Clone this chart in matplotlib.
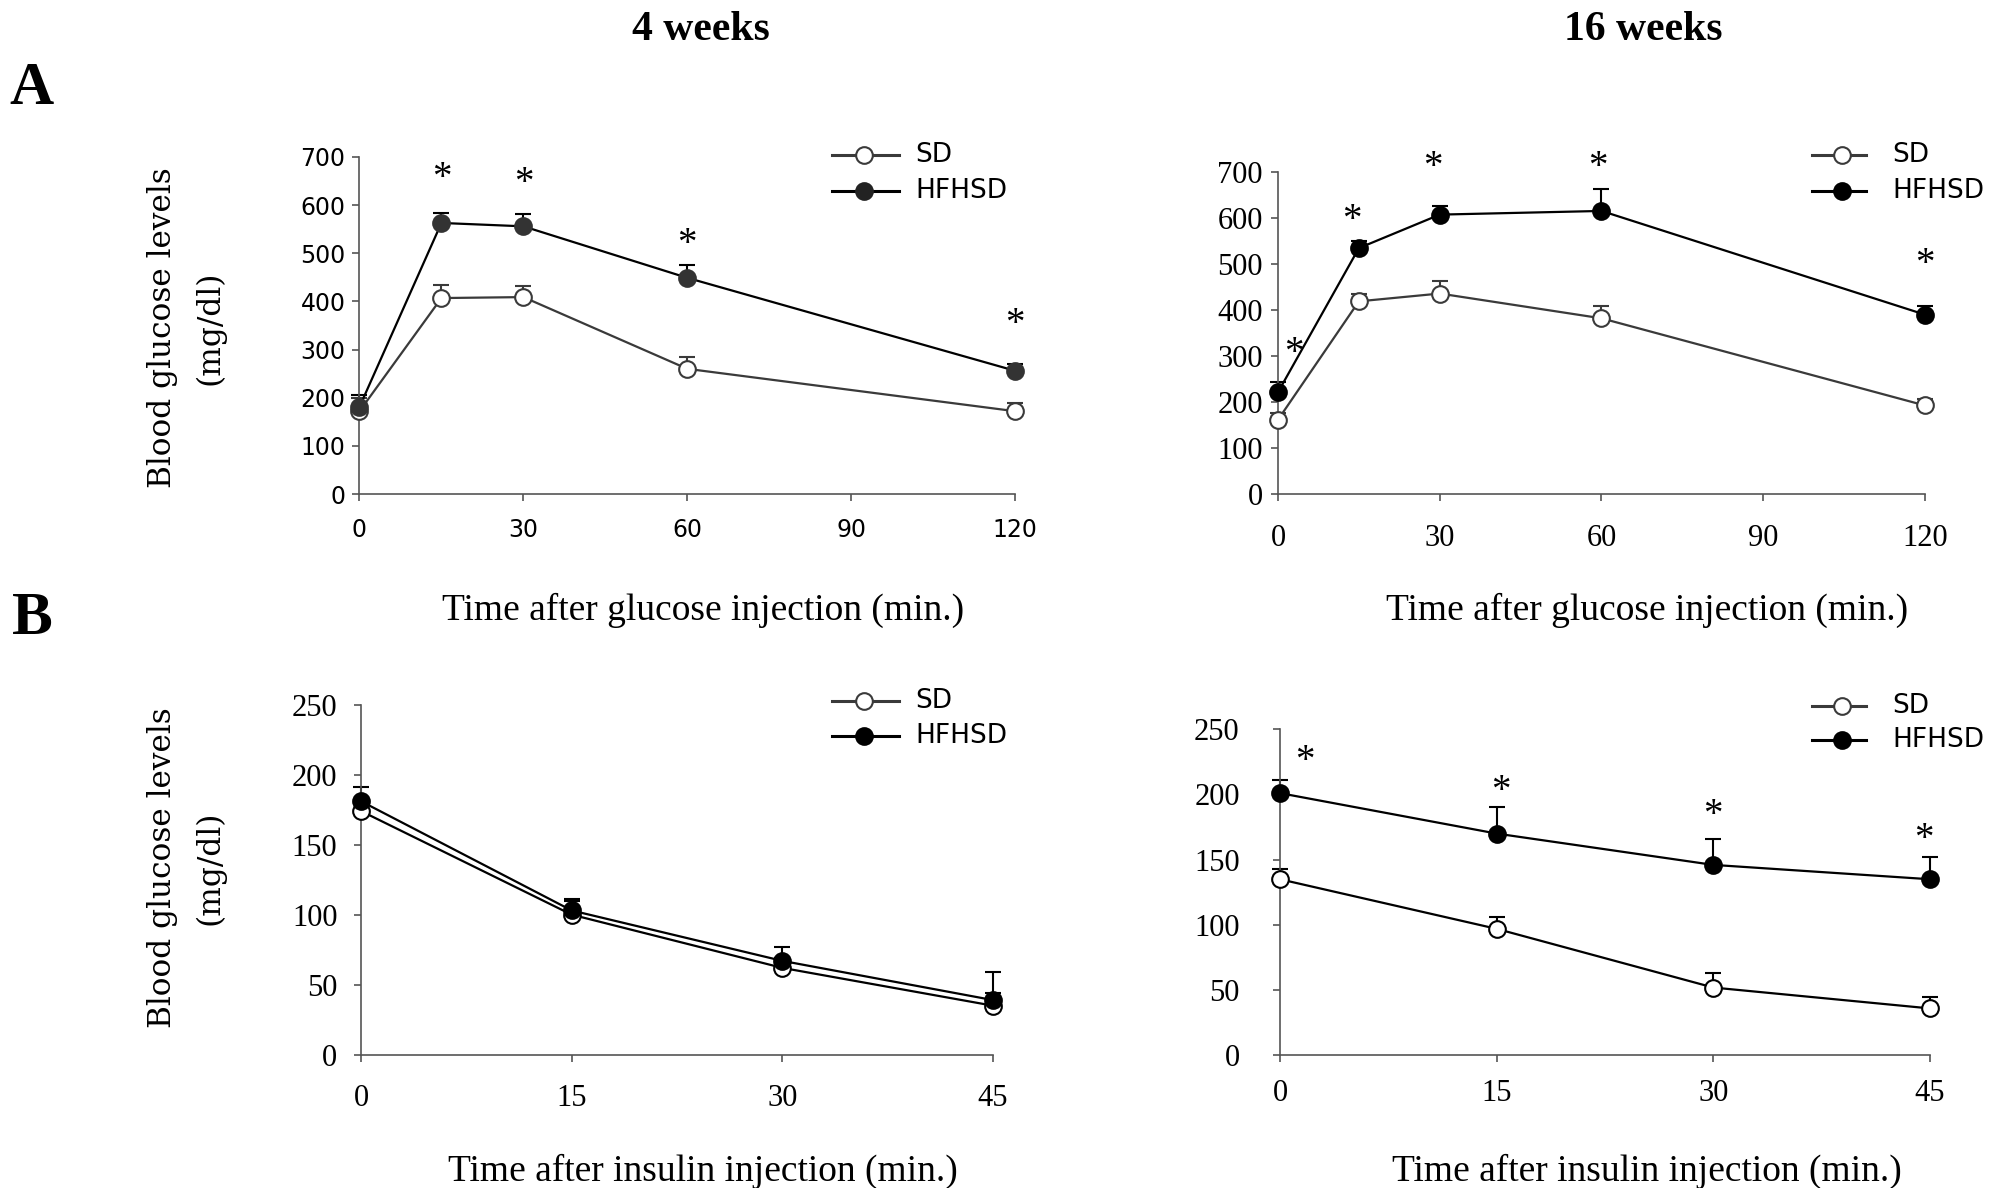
import matplotlib
matplotlib.use('Agg')
import matplotlib.pyplot as plt
from matplotlib.lines import Line2D
import numpy as np

W, H = 2006, 1188
fig = plt.figure(figsize=(W / 100, H / 100), dpi=100)

def fx(px):
    return px / W

def fy(py):
    return 1 - py / H

# ---------------- data ----------------
gtt_time = [0, 15, 30, 60, 120]
itt_time = [0, 15, 30, 45]

gtt4_sd = [172, 407, 409, 260, 172]
gtt4_sd_err = [28, 27, 24, 24, 16]
gtt4_hf = [181, 563, 556, 449, 256]
gtt4_hf_err = [24, 21, 25, 27, 14]
gtt4_star_x = [15, 30, 60, 120]
gtt4_star_y = [673, 662, 535, 370]

gtt16_sd = [161, 419, 436, 382, 192]
gtt16_sd_err = [15, 17, 28, 26, 15]
gtt16_hf = [221, 535, 608, 616, 390]
gtt16_hf_err = [22, 15, 19, 47, 18]
gtt16_star_x = [3, 13.7, 28.8, 59.3, 120]
gtt16_star_y = [324, 613, 728, 728, 518]

itt4_sd = [174, 100, 62, 35]
itt4_sd_err = [8, 10, 7, 9]
itt4_hf = [181, 103, 67, 39]
itt4_hf_err = [10, 8, 10, 20]

itt16_sd = [135, 97, 52, 36]
itt16_sd_err = [8, 9, 11, 9]
itt16_hf = [201, 170, 146, 135]
itt16_hf_err = [10, 20, 20, 17]
itt16_star_x = [1.7, 15.3, 30, 44.6]
itt16_star_y = [232, 209, 190, 172]

gtt_xticks = [0, 30, 60, 90, 120]
gtt_yticks = [0, 100, 200, 300, 400, 500, 600, 700]
itt_xticks = [0, 15, 30, 45]
itt_yticks = [0, 50, 100, 150, 200, 250]

legend_labels = ['SD', 'HFHSD']

SERIF = 'Liberation Serif'
SANS = 'DejaVu Sans'
SD_COLOR = '#3a3a3a'
HF_COLOR = '#000000'
SPINE = '#555555'


def add_ax(l, t, r, b):
    return fig.add_axes([fx(l), fy(b), fx(r) - fx(l), (b - t) / H])


def style_ax(ax, xticks, yticks, xlim, ylim, tickfont, ticksize, xpad, ypad):
    ax.set_xlim(*xlim)
    ax.set_ylim(*ylim)
    ax.set_xticks(xticks)
    ax.set_yticks(yticks)
    for s in ['top', 'right']:
        ax.spines[s].set_visible(False)
    for s in ['left', 'bottom']:
        ax.spines[s].set_color(SPINE)
        ax.spines[s].set_linewidth(1.2)
    ax.tick_params(axis='both', direction='out', length=5, width=1.2, color=SPINE,
                   labelsize=ticksize, labelfontfamily=tickfont, labelcolor='black')
    ax.tick_params(axis='x', pad=xpad)
    ax.tick_params(axis='y', pad=ypad)
    ax.patch.set_alpha(0)


def draw_series(ax, x, y, err, color, mfc, mec, lw=1.6):
    lower = np.zeros(len(err))
    ax.errorbar(x, y, yerr=[lower, err], fmt='none', ecolor=color, elinewidth=1.5,
                capsize=6, capthick=1.5, clip_on=False, zorder=2)
    ax.plot(x, y, '-', color=color, lw=lw, marker='o', ms=12, mfc=mfc, mec=mec,
            mew=1.5, clip_on=False, zorder=3)


def stars(ax, xs, ys):
    for x, y in zip(xs, ys):
        ax.annotate('*', xy=(x, y), xytext=(0, -6), textcoords='offset points',
                    ha='center', va='center', fontsize=28, family=SERIF,
                    annotation_clip=False)


def legend(xl0, xl1, xm, xt, ys, hf_face):
    specs = [(SD_COLOR, 'white', SD_COLOR), (HF_COLOR, hf_face, hf_face)]
    for (c, fc, ec), yy, lab in zip(specs, ys, legend_labels):
        fig.add_artist(Line2D([fx(xl0), fx(xl1)], [fy(yy), fy(yy)], color=c, lw=2.2,
                              transform=fig.transFigure))
        fig.add_artist(Line2D([fx(xm)], [fy(yy)], marker='o', ms=12, mfc=fc, mec=ec,
                              mew=1.5, transform=fig.transFigure))
        fig.text(fx(xt), fy(yy), lab, ha='left', va='center', fontsize=19, family=SANS)


# ---------------- A left: GTT 4 weeks ----------------
ax1 = add_ax(359.5, 157, 1015, 494)
style_ax(ax1, gtt_xticks, gtt_yticks, (0, 120), (0, 700), SANS, 17, 12, 5)
draw_series(ax1, gtt_time, gtt4_sd, gtt4_sd_err, SD_COLOR, 'white', SD_COLOR)
draw_series(ax1, gtt_time, gtt4_hf, gtt4_hf_err, HF_COLOR, '#333333', '#333333')
stars(ax1, gtt4_star_x, gtt4_star_y)
legend(832, 899, 864, 915, [154.5, 191], '#222222')

# ---------------- A right: GTT 16 weeks ----------------
ax2 = add_ax(1278, 172.4, 1925, 493.6)
style_ax(ax2, gtt_xticks, gtt_yticks, (0, 120), (0, 700), SERIF, 22, 17, 6)
draw_series(ax2, gtt_time, gtt16_sd, gtt16_sd_err, SD_COLOR, 'white', SD_COLOR)
draw_series(ax2, gtt_time, gtt16_hf, gtt16_hf_err, HF_COLOR, 'black', 'black')
stars(ax2, gtt16_star_x, gtt16_star_y)
legend(1812, 1866, 1842, 1892, [154.5, 191], 'black')

# ---------------- B left: ITT 4 weeks ----------------
ax3 = add_ax(361, 704.6, 993, 1054.7)
style_ax(ax3, itt_xticks, itt_yticks, (0, 45), (0, 250), SERIF, 22, 16, 12)
draw_series(ax3, itt_time, itt4_sd, itt4_sd_err, HF_COLOR, 'white', 'black')
draw_series(ax3, itt_time, itt4_hf, itt4_hf_err, HF_COLOR, 'black', 'black')
legend(832, 899, 864, 915, [701, 736], 'black')

# ---------------- B right: ITT 16 weeks ----------------
ax4 = add_ax(1280, 729.2, 1930, 1055.4)
style_ax(ax4, itt_xticks, itt_yticks, (0, 45), (0, 250), SERIF, 22, 12, 24)
draw_series(ax4, itt_time, itt16_sd, itt16_sd_err, HF_COLOR, 'white', 'black')
draw_series(ax4, itt_time, itt16_hf, itt16_hf_err, HF_COLOR, 'black', 'black')
stars(ax4, itt16_star_x, itt16_star_y)
legend(1812, 1866, 1842, 1892, [706, 740], 'black')

# ---------------- figure texts ----------------
fig.text(fx(701), fy(30), '4 weeks', ha='center', va='center', fontsize=30,
         fontweight='bold', family=SERIF)
fig.text(fx(1643), fy(30), '16 weeks', ha='center', va='center', fontsize=30,
         fontweight='bold', family=SERIF)
fig.text(fx(32), fy(89), 'A', ha='center', va='center', fontsize=44,
         fontweight='bold', family=SERIF)
fig.text(fx(32), fy(619), 'B', ha='center', va='center', fontsize=44,
         fontweight='bold', family=SERIF)

for xc in (703, 1647):
    fig.text(fx(xc), fy(610), 'Time after glucose injection (min.)', ha='center',
             va='center', fontsize=27, family=SERIF)
    fig.text(fx(xc), fy(1171), 'Time after insulin injection (min.)', ha='center',
             va='center', fontsize=27, family=SERIF)

for yc in (328, 868):
    fig.text(fx(162), fy(yc), 'Blood glucose levels', rotation=90, ha='center',
             va='center', fontsize=22.5, family='DejaVu Serif')
    fig.text(fx(210), fy(yc), '(mg/dl)', rotation=90, ha='center',
             va='center', fontsize=22.5, family='DejaVu Serif')

fig.savefig('out.png', dpi=100, facecolor='white')
